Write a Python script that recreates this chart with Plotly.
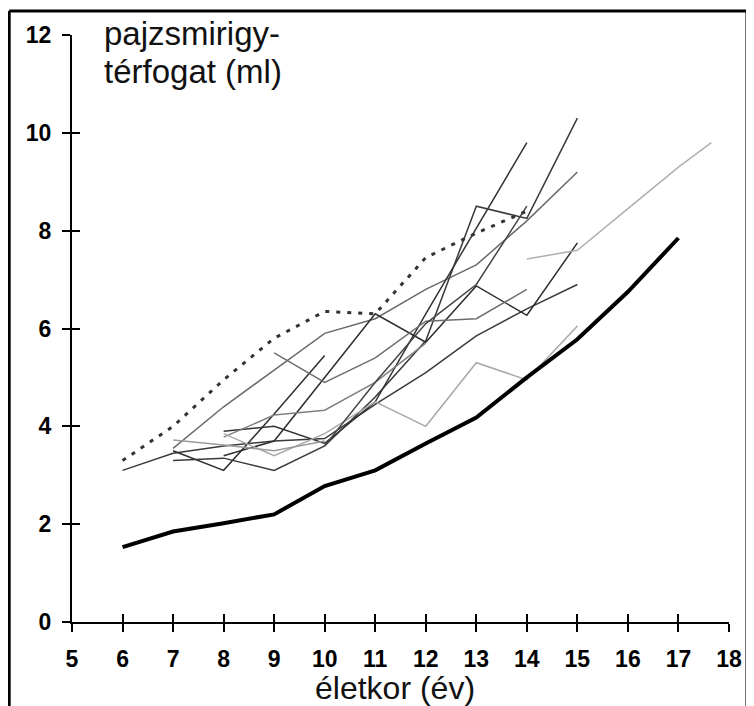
import plotly.graph_objects as go

# ---- data ----
age_mean = [6, 7, 8, 9, 10, 11, 12, 13, 14, 15, 16, 17]
vol_mean = [1.53, 1.85, 2.02, 2.2, 2.78, 3.1, 3.65, 4.18, 5.0, 5.78, 6.75, 7.85]

age_dot = [6, 7, 8, 9, 10, 11, 12, 13, 14]
vol_dot = [3.3, 4.0, 4.95, 5.8, 6.35, 6.3, 7.45, 7.95, 8.4]

age_t1 = [6, 7, 8, 9, 10, 11, 12, 13, 14, 15]
vol_t1 = [3.1, 3.45, 3.6, 3.7, 3.75, 4.45, 5.1, 5.85, 6.4, 6.9]

age_t2 = [7, 8, 9, 10, 11, 12, 13, 14, 15]
vol_t2 = [3.55, 4.4, 5.15, 5.9, 6.2, 6.8, 7.3, 8.2, 9.2]

age_t3 = [7, 8, 9, 10]
vol_t3 = [3.5, 3.1, 4.25, 5.45]

age_t4 = [8, 9, 10, 11, 12, 13, 14]
vol_t4 = [3.9, 4.0, 3.65, 4.5, 6.3, 8.05, 9.8]

age_t5 = [7, 8, 9, 10, 11, 12, 13, 14, 15]
vol_t5 = [3.3, 3.35, 3.1, 3.6, 4.6, 5.75, 8.5, 8.25, 10.3]

age_t6 = [8, 9, 10, 11, 12, 13, 14, 15]
vol_t6 = [3.4, 3.7, 5.0, 6.3, 5.72, 6.87, 6.27, 7.75]

age_t7 = [8, 9, 10, 11, 12]
vol_t7 = [3.78, 4.23, 4.33, 4.9, 5.7]

age_t8 = [8, 9, 10, 11, 12, 13, 14, 15]
vol_t8 = [3.85, 3.4, 3.85, 4.5, 4.0, 5.3, 4.95, 6.05]

age_t9 = [7, 8, 9, 10]
vol_t9 = [3.72, 3.62, 3.5, 3.7]

age_t10 = [9, 10, 11, 12, 13, 14]
vol_t10 = [5.5, 4.9, 5.4, 6.15, 6.2, 6.8]

age_t11 = [10, 11, 12, 13, 14]
vol_t11 = [3.6, 4.9, 6.1, 6.9, 8.5]

age_t12 = [14, 15, 16, 17, 17.65]
vol_t12 = [7.42, 7.6, 8.45, 9.3, 9.8]

x_ticks = list(range(5, 19))
y_ticks = [0, 2, 4, 6, 8, 10, 12]

thin = [
    (age_t1, vol_t1, "#3a3a3a"),
    (age_t2, vol_t2, "#6a6a6a"),
    (age_t3, vol_t3, "#2e2e2e"),
    (age_t4, vol_t4, "#333333"),
    (age_t5, vol_t5, "#3a3a3a"),
    (age_t6, vol_t6, "#2e2e2e"),
    (age_t7, vol_t7, "#808080"),
    (age_t8, vol_t8, "#a8a8a8"),
    (age_t9, vol_t9, "#9a9a9a"),
    (age_t10, vol_t10, "#6e6e6e"),
    (age_t11, vol_t11, "#444444"),
    (age_t12, vol_t12, "#b0b0b0"),
]

fig = go.Figure()
for xs, ys, col in thin:
    fig.add_trace(go.Scatter(x=xs, y=ys, mode="lines",
                             line=dict(color=col, width=1.5),
                             showlegend=False, hoverinfo="skip"))

fig.add_trace(go.Scatter(x=age_dot, y=vol_dot, mode="lines",
                         line=dict(color="#333333", width=3, dash="4px,7px"),
                         showlegend=False, hoverinfo="skip"))
fig.add_trace(go.Scatter(x=age_mean, y=vol_mean, mode="lines",
                         line=dict(color="#000000", width=4),
                         showlegend=False, hoverinfo="skip"))

# empty traces so that the overlay axes (inner half of the crossing ticks) are drawn
fig.add_trace(go.Scatter(x=[], y=[], xaxis="x2", yaxis="y", showlegend=False))
fig.add_trace(go.Scatter(x=[], y=[], xaxis="x", yaxis="y2", showlegend=False))

tick_font = dict(family="Liberation Sans, Arial, sans-serif",
                 size=23, color="black", weight="bold")

# the page body adds an 8px offset, so the figure is 8px smaller than the window
W, H = 746, 698


def px(xr):  # reference pixel x -> paper
    return (xr - 72) / 659


def py(yr):  # reference pixel y -> paper
    return (622 - yr) / 587


title_font = dict(family="Liberation Sans, Arial, sans-serif", size=33, color="#111111")

fig.update_layout(
    width=W, height=H,
    margin=dict(l=64, r=23, t=27, b=84),
    paper_bgcolor="white", plot_bgcolor="white",
    showlegend=False,
    xaxis=dict(range=[5, 18], tickvals=x_ticks, ticktext=[str(v) for v in x_ticks],
               showgrid=False, zeroline=False, showline=True, linecolor="black", linewidth=2,
               ticks="outside", ticklen=8, tickwidth=2, tickcolor="black",
               tickfont=tick_font, ticklabelstandoff=7),
    yaxis=dict(range=[0, 12], tickvals=y_ticks, ticktext=[str(v) for v in y_ticks],
               showgrid=False, zeroline=False, showline=True, linecolor="black", linewidth=2,
               ticks="outside", ticklen=8, tickwidth=2, tickcolor="black",
               tickfont=tick_font, ticklabelstandoff=6),
    xaxis2=dict(range=[5, 18], tickvals=x_ticks, overlaying="x", anchor="y", side="bottom",
                showgrid=False, zeroline=False, showline=False, showticklabels=False,
                ticks="inside", ticklen=8, tickwidth=2, tickcolor="black"),
    yaxis2=dict(range=[0, 12], tickvals=y_ticks, overlaying="y", anchor="x", side="left",
                showgrid=False, zeroline=False, showline=False, showticklabels=False,
                ticks="inside", ticklen=8, tickwidth=2, tickcolor="black"),
    annotations=[
        dict(text="pajzsmirigy-", xref="paper", yref="paper",
             x=px(102), y=py(33.5), xanchor="left", yanchor="middle",
             align="left", showarrow=False, font=title_font),
        dict(text="térfogat (ml)", xref="paper", yref="paper",
             x=px(102), y=py(71.5), xanchor="left", yanchor="middle",
             align="left", showarrow=False, font=title_font),
        dict(text="életkor (év)", xref="paper", yref="paper",
             x=px(396), y=py(688), xanchor="center", yanchor="middle",
             showarrow=False,
             font=dict(family="Liberation Sans, Arial, sans-serif", size=32, color="#111111")),
    ],
    shapes=[
        dict(type="line", xref="paper", yref="paper",
             x0=px(9), x1=px(9), y0=py(11), y1=py(720),
             line=dict(color="black", width=3)),
        dict(type="line", xref="paper", yref="paper",
             x0=px(9), x1=px(749), y0=py(11), y1=py(11),
             line=dict(color="black", width=3)),
        dict(type="line", xref="paper", yref="paper",
             x0=px(749), x1=px(749), y0=py(11), y1=py(720),
             line=dict(color="black", width=3)),
    ],
)

fig.write_html("out.html")
